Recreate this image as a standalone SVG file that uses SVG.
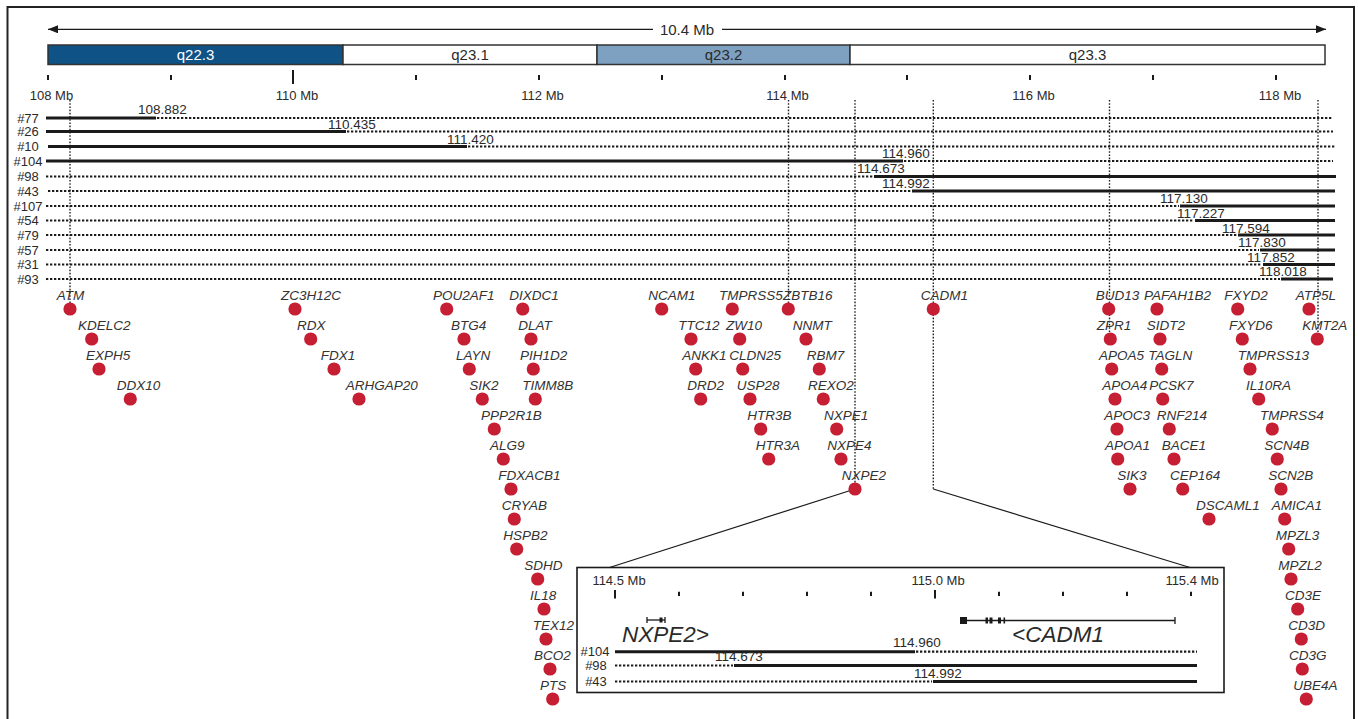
<svg xmlns="http://www.w3.org/2000/svg" width="1358" height="719" viewBox="0 0 1358 719">
<defs>
<style>
text{font-family:"Liberation Sans",Arial,sans-serif;fill:#2a2a2a}
.t13{font-size:13px}
.num{font-size:13.5px}
.rl{font-size:13px;text-anchor:middle}
.band{font-size:15px;text-anchor:middle}
.g{font-size:13.5px;font-style:italic;fill:#333}
.big{font-size:22.5px;font-style:italic;fill:#2a2a2a}
.sol{stroke:#1a1a1a;stroke-width:3;fill:none}
.dot{stroke:#1a1a1a;stroke-width:2.2;stroke-dasharray:2.3 1.7;fill:none}
.vd{stroke:#222;stroke-width:1.4;stroke-dasharray:1.6 1.6;fill:none}
.tick{stroke:#1a1a1a;stroke-width:2}
.thin{stroke:#1a1a1a;stroke-width:1.3;fill:none}
.gd{fill:#c61f33}
</style>
<marker id="ah" viewBox="0 0 10 8" refX="10" refY="4" markerWidth="10" markerHeight="8" markerUnits="userSpaceOnUse" orient="auto-start-reverse"><path d="M0,0 L10,4 L0,8 Z" fill="#1a1a1a"/></marker>
</defs>
<rect x="7.5" y="7" width="1346.5" height="730" fill="#fff" stroke="#222" stroke-width="2"/>

<g id="scale-arrow">
<line x1="653" y1="29.3" x2="48" y2="29.3" class="thin" marker-end="url(#ah)"/>
<line x1="722" y1="29.3" x2="1326" y2="29.3" class="thin" marker-end="url(#ah)"/>
<text x="687" y="35" class="band">10.4 Mb</text>
</g>

<g id="ideogram">
<rect x="48" y="45" width="295" height="19.5" fill="#0e5286" stroke="#333" stroke-width="1.5"/>
<rect x="343" y="45" width="254" height="19.5" fill="#fff" stroke="#333" stroke-width="1.5"/>
<rect x="597" y="45" width="253" height="19.5" fill="#7ea1c1" stroke="#333" stroke-width="1.5"/>
<rect x="850" y="45" width="475" height="19.5" fill="#fff" stroke="#333" stroke-width="1.5"/>
<text x="195.5" y="60" class="band" style="fill:#fff">q22.3</text>
<text x="470" y="60" class="band">q23.1</text>
<text x="723.5" y="60" class="band">q23.2</text>
<text x="1087.5" y="60" class="band">q23.3</text>
</g>

<g id="axis">
<line x1="48" y1="75" x2="48" y2="80" class="tick"/>
<line x1="171" y1="75" x2="171" y2="80" class="tick"/>
<line x1="293" y1="70" x2="293" y2="84" class="tick"/>
<line x1="416" y1="75" x2="416" y2="80" class="tick"/>
<line x1="539" y1="75" x2="539" y2="80" class="tick"/>
<line x1="662" y1="75" x2="662" y2="80" class="tick"/>
<line x1="785" y1="75" x2="785" y2="80" class="tick"/>
<line x1="907" y1="75" x2="907" y2="80" class="tick"/>
<line x1="1030" y1="75" x2="1030" y2="80" class="tick"/>
<line x1="1153" y1="75" x2="1153" y2="80" class="tick"/>
<line x1="1276" y1="75" x2="1276" y2="80" class="tick"/>
<text x="51.5" y="100" class="t13" text-anchor="middle">108 Mb</text>
<text x="297" y="100" class="t13" text-anchor="middle">110 Mb</text>
<text x="542.5" y="100" class="t13" text-anchor="middle">112 Mb</text>
<text x="787.5" y="100" class="t13" text-anchor="middle">114 Mb</text>
<text x="1033.5" y="100" class="t13" text-anchor="middle">116 Mb</text>
<text x="1280" y="100" class="t13" text-anchor="middle">118 Mb</text>
</g>

<g id="connectors">
<line x1="70" y1="100" x2="70" y2="309" class="vd"/>
<line x1="788.5" y1="100" x2="788.5" y2="309" class="vd"/>
<line x1="855" y1="100" x2="855" y2="489" class="vd"/>
<line x1="933.3" y1="100" x2="933.3" y2="489" class="vd"/>
<line x1="1109.5" y1="100" x2="1109.5" y2="339" class="vd"/>
<line x1="1318" y1="100" x2="1318" y2="339" class="vd"/>
<line x1="855" y1="489" x2="608" y2="568" stroke="#1a1a1a" stroke-width="1.2"/>
<line x1="933.3" y1="489" x2="1190" y2="567.5" stroke="#1a1a1a" stroke-width="1.2"/>
</g>

<g id="row-77"><text x="28" y="122.5" class="rl">#77</text><line x1="46" y1="118" x2="156" y2="118" class="sol"/><line x1="157" y1="118" x2="1333" y2="118" class="dot"/><text x="138" y="114" class="num">108.882</text></g>
<g id="row-26"><text x="28" y="136" class="rl">#26</text><line x1="46" y1="131.5" x2="346" y2="131.5" class="sol"/><line x1="347" y1="131.5" x2="1333" y2="131.5" class="dot"/><text x="328" y="129" class="num">110.435</text></g>
<g id="row-10"><text x="28" y="151" class="rl">#10</text><line x1="48" y1="146.5" x2="467" y2="146.5" class="sol"/><line x1="468" y1="146.5" x2="1335" y2="146.5" class="dot"/><text x="447" y="144" class="num">111.420</text></g>
<g id="row-104"><text x="28" y="165.5" class="rl">#104</text><line x1="46" y1="161" x2="903" y2="161" class="sol"/><line x1="904" y1="161" x2="1333" y2="161" class="dot"/><text x="882" y="158" class="num">114.960</text></g>
<g id="row-98"><text x="28" y="181" class="rl">#98</text><line x1="46" y1="176.5" x2="873" y2="176.5" class="dot"/><line x1="874" y1="176.5" x2="1336" y2="176.5" class="sol"/><text x="857" y="173" class="num">114.673</text></g>
<g id="row-43"><text x="28" y="195.5" class="rl">#43</text><line x1="48" y1="191" x2="911" y2="191" class="dot"/><line x1="912" y1="191" x2="1335" y2="191" class="sol"/><text x="882" y="188" class="num">114.992</text></g>
<g id="row-107"><text x="28" y="210.5" class="rl">#107</text><line x1="46" y1="206" x2="1179" y2="206" class="dot"/><line x1="1180" y1="206" x2="1335" y2="206" class="sol"/><text x="1160" y="203" class="num">117.130</text></g>
<g id="row-54"><text x="28" y="225" class="rl">#54</text><line x1="46" y1="220.5" x2="1194" y2="220.5" class="dot"/><line x1="1195" y1="220.5" x2="1335" y2="220.5" class="sol"/><text x="1177" y="218" class="num">117.227</text></g>
<g id="row-79"><text x="28" y="239.5" class="rl">#79</text><line x1="46" y1="235" x2="1237" y2="235" class="dot"/><line x1="1238" y1="235" x2="1335" y2="235" class="sol"/><text x="1222" y="233" class="num">117.594</text></g>
<g id="row-57"><text x="28" y="254.5" class="rl">#57</text><line x1="46" y1="250" x2="1259" y2="250" class="dot"/><line x1="1260" y1="250" x2="1335" y2="250" class="sol"/><text x="1238" y="247" class="num">117.830</text></g>
<g id="row-31"><text x="28" y="269" class="rl">#31</text><line x1="46" y1="264.5" x2="1262" y2="264.5" class="dot"/><line x1="1263" y1="264.5" x2="1335" y2="264.5" class="sol"/><text x="1247" y="262" class="num">117.852</text></g>
<g id="row-93"><text x="28" y="283.5" class="rl">#93</text><line x1="46" y1="279" x2="1280" y2="279" class="dot"/><line x1="1281" y1="279" x2="1333" y2="279" class="sol"/><text x="1259" y="276" class="num">118.018</text></g>

<g id="genes">
<g id="gene-ATM"><circle cx="70" cy="309" r="6.6" class="gd"/><text x="56.7" y="300" class="g">ATM</text></g>
<g id="gene-ZC3H12C"><circle cx="295" cy="309" r="6.6" class="gd"/><text x="281" y="300" class="g">ZC3H12C</text></g>
<g id="gene-POU2AF1"><circle cx="446.7" cy="309" r="6.6" class="gd"/><text x="433" y="300" class="g">POU2AF1</text></g>
<g id="gene-DIXDC1"><circle cx="522.7" cy="309" r="6.6" class="gd"/><text x="509.3" y="300" class="g">DIXDC1</text></g>
<g id="gene-NCAM1"><circle cx="661.7" cy="309" r="6.6" class="gd"/><text x="648.3" y="300" class="g">NCAM1</text></g>
<g id="gene-TMPRSS5"><circle cx="732.3" cy="309" r="6.6" class="gd"/><text x="719" y="300" class="g">TMPRSS5</text></g>
<g id="gene-ZBTB16"><circle cx="788.3" cy="309" r="6.6" class="gd"/><text x="783" y="300" class="g">ZBTB16</text></g>
<g id="gene-CADM1"><circle cx="933.3" cy="309" r="6.6" class="gd"/><text x="920.7" y="300" class="g">CADM1</text></g>
<g id="gene-BUD13"><circle cx="1108.7" cy="309" r="6.6" class="gd"/><text x="1095.7" y="300" class="g">BUD13</text></g>
<g id="gene-PAFAH1B2"><circle cx="1157" cy="309" r="6.6" class="gd"/><text x="1144" y="300" class="g">PAFAH1B2</text></g>
<g id="gene-FXYD2"><circle cx="1237.7" cy="309" r="6.6" class="gd"/><text x="1224.3" y="300" class="g">FXYD2</text></g>
<g id="gene-ATP5L"><circle cx="1309" cy="309" r="6.6" class="gd"/><text x="1295.7" y="300" class="g">ATP5L</text></g>

<g id="gene-KDELC2"><circle cx="91.7" cy="339" r="6.6" class="gd"/><text x="78" y="330" class="g">KDELC2</text></g>
<g id="gene-RDX"><circle cx="310.7" cy="339" r="6.6" class="gd"/><text x="297" y="330" class="g">RDX</text></g>
<g id="gene-BTG4"><circle cx="464" cy="339" r="6.6" class="gd"/><text x="451" y="330" class="g">BTG4</text></g>
<g id="gene-DLAT"><circle cx="531" cy="339" r="6.6" class="gd"/><text x="518.3" y="330" class="g">DLAT</text></g>
<g id="gene-TTC12"><circle cx="691" cy="339" r="6.6" class="gd"/><text x="678.3" y="330" class="g">TTC12</text></g>
<g id="gene-ZW10"><circle cx="739.7" cy="339" r="6.6" class="gd"/><text x="726" y="330" class="g">ZW10</text></g>
<g id="gene-NNMT"><circle cx="806" cy="339" r="6.6" class="gd"/><text x="792.7" y="330" class="g">NNMT</text></g>
<g id="gene-ZPR1"><circle cx="1110.3" cy="339" r="6.6" class="gd"/><text x="1096.7" y="330" class="g">ZPR1</text></g>
<g id="gene-SIDT2"><circle cx="1160" cy="339" r="6.6" class="gd"/><text x="1146.7" y="330" class="g">SIDT2</text></g>
<g id="gene-FXYD6"><circle cx="1242.3" cy="339" r="6.6" class="gd"/><text x="1229" y="330" class="g">FXYD6</text></g>
<g id="gene-KMT2A"><circle cx="1317.3" cy="339" r="6.6" class="gd"/><text x="1302.3" y="330" class="g">KMT2A</text></g>

<g id="gene-EXPH5"><circle cx="99" cy="369" r="6.6" class="gd"/><text x="86" y="360" class="g">EXPH5</text></g>
<g id="gene-FDX1"><circle cx="334" cy="369" r="6.6" class="gd"/><text x="320.7" y="360" class="g">FDX1</text></g>
<g id="gene-LAYN"><circle cx="469.3" cy="369" r="6.6" class="gd"/><text x="456" y="360" class="g">LAYN</text></g>
<g id="gene-PIH1D2"><circle cx="533.3" cy="369" r="6.6" class="gd"/><text x="520" y="360" class="g">PIH1D2</text></g>
<g id="gene-ANKK1"><circle cx="695.7" cy="369" r="6.6" class="gd"/><text x="682.3" y="360" class="g">ANKK1</text></g>
<g id="gene-CLDN25"><circle cx="742.7" cy="369" r="6.6" class="gd"/><text x="729.3" y="360" class="g">CLDN25</text></g>
<g id="gene-RBM7"><circle cx="819.3" cy="369" r="6.6" class="gd"/><text x="806.7" y="360" class="g">RBM7</text></g>
<g id="gene-APOA5"><circle cx="1111.7" cy="369" r="6.6" class="gd"/><text x="1099" y="360" class="g">APOA5</text></g>
<g id="gene-TAGLN"><circle cx="1161.7" cy="369" r="6.6" class="gd"/><text x="1148.3" y="360" class="g">TAGLN</text></g>
<g id="gene-TMPRSS13"><circle cx="1250" cy="369" r="6.6" class="gd"/><text x="1237.7" y="360" class="g">TMPRSS13</text></g>

<g id="gene-DDX10"><circle cx="130.3" cy="399" r="6.6" class="gd"/><text x="116.7" y="390" class="g">DDX10</text></g>
<g id="gene-ARHGAP20"><circle cx="359" cy="399" r="6.6" class="gd"/><text x="345.7" y="390" class="g">ARHGAP20</text></g>
<g id="gene-SIK2"><circle cx="482.3" cy="399" r="6.6" class="gd"/><text x="469.3" y="390" class="g">SIK2</text></g>
<g id="gene-TIMM8B"><circle cx="535.3" cy="399" r="6.6" class="gd"/><text x="522.3" y="390" class="g">TIMM8B</text></g>
<g id="gene-DRD2"><circle cx="700.7" cy="399" r="6.6" class="gd"/><text x="687.3" y="390" class="g">DRD2</text></g>
<g id="gene-USP28"><circle cx="750" cy="399" r="6.6" class="gd"/><text x="736.7" y="390" class="g">USP28</text></g>
<g id="gene-REXO2"><circle cx="823.3" cy="399" r="6.6" class="gd"/><text x="808" y="390" class="g">REXO2</text></g>
<g id="gene-APOA4"><circle cx="1115" cy="399" r="6.6" class="gd"/><text x="1102.3" y="390" class="g">APOA4</text></g>
<g id="gene-PCSK7"><circle cx="1162.7" cy="399" r="6.6" class="gd"/><text x="1149.3" y="390" class="g">PCSK7</text></g>
<g id="gene-IL10RA"><circle cx="1258.7" cy="399" r="6.6" class="gd"/><text x="1246" y="390" class="g">IL10RA</text></g>

<g id="gene-PPP2R1B"><circle cx="494.3" cy="429" r="6.6" class="gd"/><text x="481" y="420" class="g">PPP2R1B</text></g>
<g id="gene-HTR3B"><circle cx="760.7" cy="429" r="6.6" class="gd"/><text x="747.3" y="420" class="g">HTR3B</text></g>
<g id="gene-NXPE1"><circle cx="836.7" cy="429" r="6.6" class="gd"/><text x="824" y="420" class="g">NXPE1</text></g>
<g id="gene-APOC3"><circle cx="1117" cy="429" r="6.6" class="gd"/><text x="1104.3" y="420" class="g">APOC3</text></g>
<g id="gene-RNF214"><circle cx="1169.3" cy="429" r="6.6" class="gd"/><text x="1156.7" y="420" class="g">RNF214</text></g>
<g id="gene-TMPRSS4"><circle cx="1272.3" cy="429" r="6.6" class="gd"/><text x="1260" y="420" class="g">TMPRSS4</text></g>

<g id="gene-ALG9"><circle cx="503.3" cy="459" r="6.6" class="gd"/><text x="490" y="450" class="g">ALG9</text></g>
<g id="gene-HTR3A"><circle cx="768.7" cy="459" r="6.6" class="gd"/><text x="755.7" y="450" class="g">HTR3A</text></g>
<g id="gene-NXPE4"><circle cx="841" cy="459" r="6.6" class="gd"/><text x="827.3" y="450" class="g">NXPE4</text></g>
<g id="gene-APOA1"><circle cx="1117.7" cy="459" r="6.6" class="gd"/><text x="1105" y="450" class="g">APOA1</text></g>
<g id="gene-BACE1"><circle cx="1174" cy="459" r="6.6" class="gd"/><text x="1161.7" y="450" class="g">BACE1</text></g>
<g id="gene-SCN4B"><circle cx="1277.3" cy="459" r="6.6" class="gd"/><text x="1264.3" y="450" class="g">SCN4B</text></g>

<g id="gene-FDXACB1"><circle cx="511" cy="489" r="6.6" class="gd"/><text x="498.3" y="480" class="g">FDXACB1</text></g>
<g id="gene-NXPE2"><circle cx="855" cy="489" r="6.6" class="gd"/><text x="841.7" y="480" class="g">NXPE2</text></g>
<g id="gene-SIK3"><circle cx="1130" cy="489" r="6.6" class="gd"/><text x="1117.3" y="480" class="g">SIK3</text></g>
<g id="gene-CEP164"><circle cx="1182.7" cy="489" r="6.6" class="gd"/><text x="1170" y="480" class="g">CEP164</text></g>
<g id="gene-SCN2B"><circle cx="1281" cy="489" r="6.6" class="gd"/><text x="1268.3" y="480" class="g">SCN2B</text></g>

<g id="gene-CRYAB"><circle cx="514.3" cy="519" r="6.6" class="gd"/><text x="501.7" y="510" class="g">CRYAB</text></g>
<g id="gene-DSCAML1"><circle cx="1209" cy="519" r="6.6" class="gd"/><text x="1196" y="510" class="g">DSCAML1</text></g>
<g id="gene-AMICA1"><circle cx="1284.7" cy="519" r="6.6" class="gd"/><text x="1271.7" y="510" class="g">AMICA1</text></g>

<g id="gene-HSPB2"><circle cx="516.7" cy="549" r="6.6" class="gd"/><text x="503.3" y="540" class="g">HSPB2</text></g>
<g id="gene-MPZL3"><circle cx="1288.7" cy="549" r="6.6" class="gd"/><text x="1275.7" y="540" class="g">MPZL3</text></g>

<g id="gene-SDHD"><circle cx="537.7" cy="579" r="6.6" class="gd"/><text x="524.3" y="570" class="g">SDHD</text></g>
<g id="gene-MPZL2"><circle cx="1291" cy="579" r="6.6" class="gd"/><text x="1278.3" y="570" class="g">MPZL2</text></g>

<g id="gene-IL18"><circle cx="544" cy="609" r="6.6" class="gd"/><text x="530" y="600" class="g">IL18</text></g>
<g id="gene-CD3E"><circle cx="1297.7" cy="609" r="6.6" class="gd"/><text x="1285" y="600" class="g">CD3E</text></g>

<g id="gene-TEX12"><circle cx="546" cy="639" r="6.6" class="gd"/><text x="532.7" y="630" class="g">TEX12</text></g>
<g id="gene-CD3D"><circle cx="1301.3" cy="639" r="6.6" class="gd"/><text x="1288.3" y="630" class="g">CD3D</text></g>

<g id="gene-BCO2"><circle cx="550" cy="669" r="6.6" class="gd"/><text x="534" y="660" class="g">BCO2</text></g>
<g id="gene-CD3G"><circle cx="1302.3" cy="669" r="6.6" class="gd"/><text x="1289" y="660" class="g">CD3G</text></g>

<g id="gene-PTS"><circle cx="552.7" cy="699" r="6.6" class="gd"/><text x="540" y="690" class="g">PTS</text></g>
<g id="gene-UBE4A"><circle cx="1306.3" cy="699" r="6.6" class="gd"/><text x="1293.3" y="690" class="g">UBE4A</text></g>
</g>

<g id="inset">
<rect x="577" y="567.5" width="647" height="125" fill="#fff" stroke="#1a1a1a" stroke-width="1.6"/>
<text x="619" y="585" class="t13" text-anchor="middle">114.5 Mb</text>
<text x="938" y="585" class="t13" text-anchor="middle">115.0 Mb</text>
<text x="1192" y="585" class="t13" text-anchor="middle">115.4 Mb</text>
<line x1="615" y1="590" x2="615" y2="598.5" class="tick"/>
<line x1="679" y1="591.7" x2="679" y2="596" class="tick"/>
<line x1="743" y1="591.7" x2="743" y2="596" class="tick"/>
<line x1="807" y1="591.7" x2="807" y2="596" class="tick"/>
<line x1="871" y1="591.7" x2="871" y2="596" class="tick"/>
<line x1="935" y1="590" x2="935" y2="598.5" class="tick"/>
<line x1="999" y1="591.7" x2="999" y2="596" class="tick"/>
<line x1="1063" y1="591.7" x2="1063" y2="596" class="tick"/>
<line x1="1127" y1="591.7" x2="1127" y2="596" class="tick"/>
<line x1="1191" y1="591.7" x2="1191" y2="596" class="tick"/>
<g id="model-NXPE2">
<line x1="647" y1="620" x2="665" y2="620" class="thin"/>
<line x1="647" y1="617" x2="647" y2="623" class="thin"/>
<line x1="665" y1="617" x2="665" y2="623" class="thin"/>
<rect x="659.5" y="617.5" width="3" height="5" fill="#1a1a1a"/>
<text x="622" y="642" class="big">NXPE2&gt;</text>
</g>
<g id="model-CADM1">
<line x1="960" y1="620.5" x2="1175" y2="620.5" class="thin"/>
<rect x="960" y="617" width="7" height="7" fill="#1a1a1a"/>
<rect x="985.5" y="617.5" width="2.5" height="6" fill="#1a1a1a"/>
<rect x="989.5" y="617.5" width="3" height="6" fill="#1a1a1a"/>
<rect x="998" y="617.5" width="3" height="6" fill="#1a1a1a"/>
<rect x="1003.5" y="617.5" width="1.6" height="6" fill="#1a1a1a"/>
<line x1="1175" y1="617" x2="1175" y2="624" class="thin"/>
<text x="1012" y="642" class="big">&lt;CADM1</text>
</g>
<g id="inset-row-104"><text x="595" y="656" class="rl">#104</text><line x1="615" y1="651.7" x2="915" y2="651.7" class="sol"/><line x1="916" y1="651.7" x2="1197" y2="651.7" class="dot"/><text x="893" y="647" class="num">114.960</text></g>
<g id="inset-row-98"><text x="596" y="670" class="rl">#98</text><line x1="615" y1="665.5" x2="733" y2="665.5" class="dot"/><line x1="734" y1="665.5" x2="1197" y2="665.5" class="sol"/><text x="715" y="661" class="num">114.673</text></g>
<g id="inset-row-43"><text x="596" y="686" class="rl">#43</text><line x1="615" y1="681.5" x2="932" y2="681.5" class="dot"/><line x1="933" y1="681.5" x2="1197" y2="681.5" class="sol"/><text x="914" y="677.5" class="num">114.992</text></g>
</g>
</svg>
